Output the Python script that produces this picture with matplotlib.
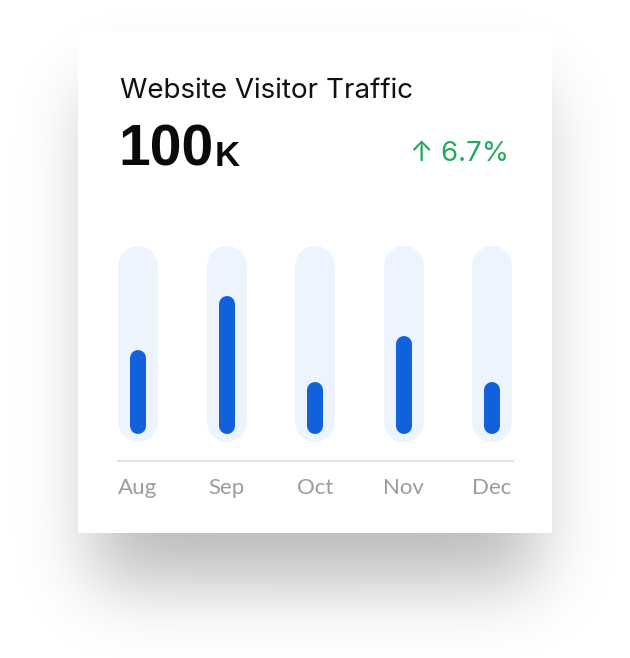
import math
import numpy as np
import matplotlib
matplotlib.use("Agg")
import matplotlib.pyplot as plt
from matplotlib.patches import Rectangle

# data
months = ["Aug", "Sep", "Oct", "Nov", "Dec"]
visitors = [19.8, 32.5, 12.3, 23.1, 12.3]   # thousands
title = "Website Visitor Traffic"
total_label = "100"
total_unit = "K"
change_label = "6.7%"

W, H = 630, 658
DPI = 100
BLUE = "#1160dc"
PALE = "#edf4fe"
GREEN = "#1fab5c"
GREY = "#9c9c9c"

fig = plt.figure(figsize=(W / DPI, H / DPI), dpi=DPI)
fig.patch.set_facecolor("white")

# background axes in pixel units (card + shadow)
bg = fig.add_axes([0, 0, 1, 1])
bg.set_xlim(0, W)
bg.set_ylim(H, 0)
bg.axis("off")

card = (78, 32, 552, 533)  # x0, y0, x1, y1 in px

# soft box shadow, offset downward
erf = np.vectorize(math.erf)
xs = np.arange(W) + 0.5
ys = np.arange(H) + 0.5
sig = 36.0
fx = 0.5 * (erf((xs - (card[0] + 15)) / (sig * 1.414)) - erf((xs - (card[2] - 15)) / (sig * 1.414)))
fy = 0.5 * (erf((ys - (card[1] + 55)) / (sig * 1.414)) - erf((ys - (card[3] + 50)) / (sig * 1.414)))
alpha = 0.27 * np.outer(fy, fx)
shadow = np.zeros((H, W, 4))
shadow[..., 3] = alpha
bg.imshow(shadow, extent=(0, W, H, 0), interpolation="bilinear", zorder=1)
bg.add_patch(Rectangle((card[0], card[1]), card[2] - card[0], card[3] - card[1],
                       facecolor="white", edgecolor="none", zorder=2))

# header texts
bg.text(120, 98, title, fontsize=20, family=["Inter", "DejaVu Sans"],
        color="#111111", va="baseline", ha="left", zorder=3)
t = bg.text(118, 166, total_label, fontsize=41, fontweight="bold",
            family=["Liberation Sans", "DejaVu Sans"], color="#0a0a0a",
            va="baseline", ha="left", zorder=3)
fig.canvas.draw()
bb = t.get_window_extent().transformed(bg.transData.inverted())
k_x = max(bb.x0, bb.x1) + 1
bg.text(k_x, 166, total_unit, fontsize=25, fontweight="bold",
        family=["Liberation Sans", "DejaVu Sans"], color="#0a0a0a",
        va="baseline", ha="left", zorder=3)
bg.text(509, 161, "\u2191 " + change_label, fontsize=20, family=["Inter", "DejaVu Sans"],
        color=GREEN, va="baseline", ha="right", zorder=3)

# bar chart axes: bottom at baseline (461 px), zero at 434 px
px_per_k = 138 / max(visitors)
ax_left, ax_right = 118, 513
ax_top, ax_base = 246, 461
ax = fig.add_axes([ax_left / W, 1 - ax_base / H, (ax_right - ax_left) / W, (ax_base - ax_top) / H])
ax.patch.set_alpha(0)
ax.set_zorder(5)
x = np.arange(len(months))
step = (492 - 138) / (len(months) - 1)
ax.set_xlim(-(138 - ax_left) / step, (ax_right - 138) / step)
ax.set_ylim(-(ax_base - 434) / px_per_k, (434 - ax_top) / px_per_k)

r_bg = 20 / px_per_k
r_fg = 8 / px_per_k
top_bg = (434 - 246) / px_per_k
bot_bg = -(442 - 434) / px_per_k
for xi, v in zip(x, visitors):
    ax.plot([xi, xi], [bot_bg + r_bg, top_bg - r_bg], color=PALE, lw=40 * 72 / DPI,
            solid_capstyle="round", clip_on=False, zorder=1)
    ax.plot([xi, xi], [r_fg, v - r_fg], color=BLUE, lw=16 * 72 / DPI,
            solid_capstyle="round", clip_on=False, zorder=2)

for s in ["top", "left", "right"]:
    ax.spines[s].set_visible(False)
ax.spines["bottom"].set_color("#e2e2e2")
ax.spines["bottom"].set_linewidth(1.5)
ax.set_yticks([])
ax.set_xticks(x)
ax.set_xticklabels(months, fontsize=16, color=GREY, family=["Lato", "DejaVu Sans"])
ax.tick_params(axis="x", length=0, pad=12)

fig.savefig("out.png", dpi=DPI, facecolor="white")
